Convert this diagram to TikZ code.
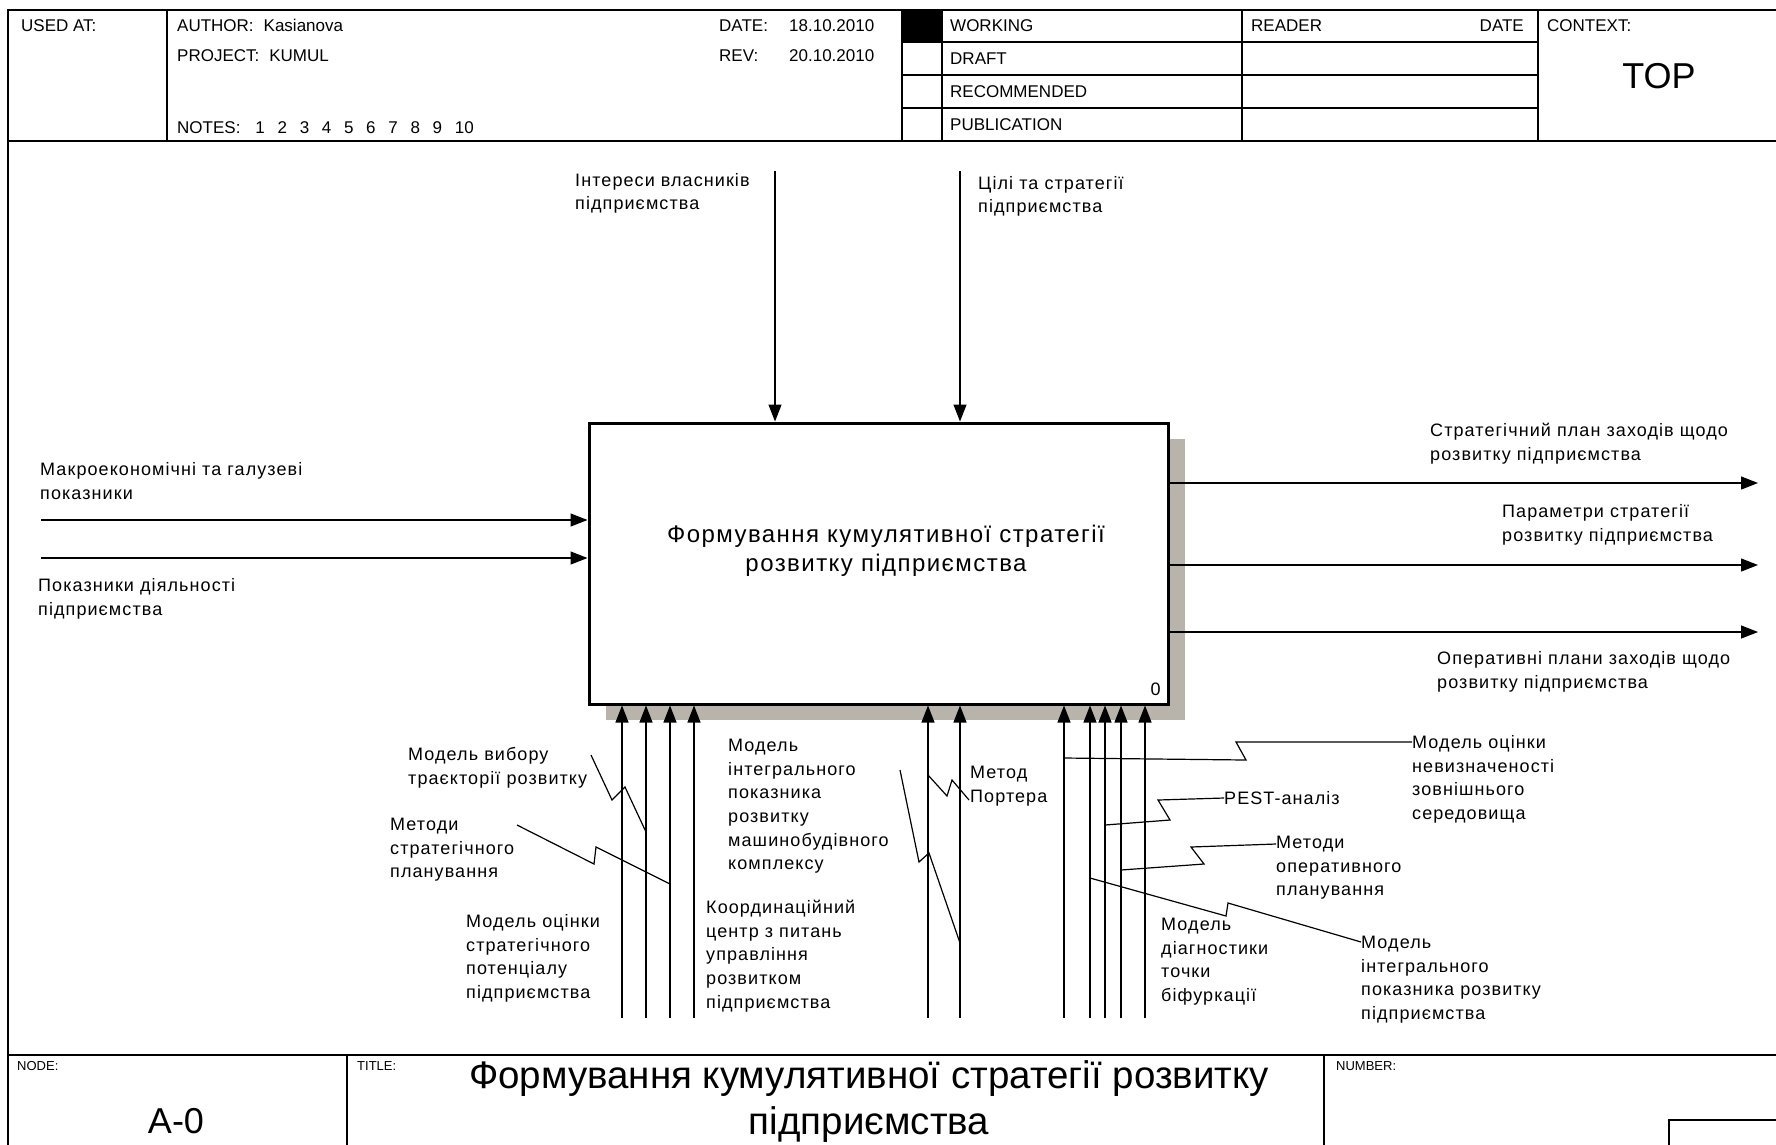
\documentclass[tikz,border=0pt]{standalone}
\usepackage{fontspec}
\setmainfont{Liberation Sans}
\newfontfamily\spacedfamily[LetterSpace=6]{Liberation Sans}
\usetikzlibrary{arrows.meta, calc, shadows}
\definecolor{shadowgray}{RGB}{184,180,172}
\newcommand{\lblfont}{\spacedfamily\fontsize{18pt}{23.7pt}\selectfont}
\newcommand{\hdrfont}{\fontsize{17pt}{20pt}\selectfont}
\newcommand{\foothdrfont}{\fontsize{13pt}{16pt}\selectfont}
\newcommand{\bigfont}{\fontsize{36pt}{44pt}\selectfont}
\newcommand{\titlefont}{\fontsize{38.5pt}{46pt}\selectfont}
\newcommand{\funcfont}{\spacedfamily\fontsize{24pt}{28.5pt}\selectfont}
\tikzset{
  frame line/.style={
    line width=2pt
  },
  grid line/.style={
    line width=1.5pt
  },
  func box/.style={
    draw,
    fill=white,
    line width=3pt,
    minimum width=579pt,
    minimum height=281pt,
    drop shadow={shadow xshift=17pt, shadow yshift=-16pt, fill=shadowgray, opacity=1}
  },
  func text/.style={
    font=\funcfont,
    align=center,
    inner sep=0pt
  },
  flow/.style={
    -{Triangle[length=17pt, width=13pt]},
    line width=1.2pt
  },
  squiggle/.style={
    line width=1.2pt
  },
  arrow label/.style={
    font=\lblfont,
    align=left,
    inner sep=0pt,
    anchor=north west
  },
  head text/.style={
    font=\hdrfont,
    inner sep=0pt,
    anchor=west,
    text height=12pt,
    text depth=0pt
  },
  foot text/.style={
    font=\foothdrfont,
    inner sep=0pt,
    anchor=west,
    text height=9.3pt,
    text depth=0pt
  },
  big text/.style={
    font=\bigfont,
    inner sep=0pt,
    text height=26pt,
    text depth=0pt
  }
}

\begin{document}
\begin{tikzpicture}[x=1pt, y=-1pt]
    % 0. page
    \useasboundingbox (0,0) rectangle (1776,1144);
    \clip (0,0) rectangle (1776,1144);

    % 1. frame and header grid
    \draw[frame line] (8,1170) -- (8,10) -- (1790,10);
    \draw[frame line] (8,141) -- (1790,141);
    \draw[frame line] (8,1055) -- (1790,1055);
    \foreach \x in {167,902,942,1242,1538}
      \draw[frame line] (\x,10) -- (\x,141);
    \foreach \y in {42,75,108}
      \draw[grid line] (902,\y) -- (1538,\y);
    \fill (902,10) rectangle (942,42);

    % 2. header texts
    \node[head text] (usedat) at (21,25) {USED AT:};
    \node[head text] (author) at (177,25) {AUTHOR:\hspace{10pt}Kasianova};
    \node[head text] (project) at (177,55) {PROJECT:\hspace{10pt}KUMUL};
    \node[head text] (notes) at (177,127) {NOTES:\hspace{15pt}{\spaceskip=12.7pt 1 2 3 4 5 6 7 8 9 10}};
    \node[head text] (date) at (719,25) {DATE:};
    \node[head text] (dateval) at (789,25) {18.10.2010};
    \node[head text] (rev) at (719,55) {REV:};
    \node[head text] (revval) at (789,55) {20.10.2010};
    \node[head text] (working) at (950,25) {WORKING};
    \node[head text] (draft) at (950,58) {DRAFT};
    \node[head text] (recom) at (950,91) {RECOMMENDED};
    \node[head text] (public) at (950,124) {PUBLICATION};
    \node[head text] (reader) at (1251,25) {READER};
    \node[head text, anchor=east] (readdate) at (1524,25) {DATE};
    \node[head text] (context) at (1547,25) {CONTEXT:};
    \node[big text] (top) at (1659,75) {TOP};

    % 3. footer
    \draw[frame line] (347,1055) -- (347,1170);
    \draw[frame line] (1324,1055) -- (1324,1170);
    \draw[frame line] (1669,1170) -- (1669,1120) -- (1790,1120);
    \node[foot text] (nodelbl) at (17,1066) {NODE:};
    \node[foot text] (titlelbl) at (357,1066) {TITLE:};
    \node[foot text] (numberlbl) at (1336,1066) {NUMBER:};
    \node[big text] (nodeno) at (176,1120) {A-0};
    \node[font=\titlefont, align=center, inner sep=0pt, anchor=north] (title) at (869,1056)
      {\strut Формування кумулятивної стратегії розвитку\\підприємства};

    % 4. function box
    \node[func box] (func) at (878.5,563.5) {};
    \node[func text] (functext) at (886,551) {Формування кумулятивної стратегії\\розвитку підприємства};
    \node[font=\lblfont, inner sep=0pt] (funcno) at (1155.5,689) {0};

    % 5. inputs
    \coordinate (in1) at (41,520);
    \coordinate (in2) at (41,558);
    \draw[flow] (in1) -- (in1 -| func.west);
    \draw[flow] (in2) -- (in2 -| func.west);
    \node[arrow label] (inlab1) at (40,458.5) {\strut Макроекономічні та галузеві\\показники};
    \node[arrow label] (inlab2) at (38,575) {\strut Показники діяльності\\підприємства};

    % 6. controls
    \coordinate (ctl1) at (775,171);
    \coordinate (ctl2) at (960,171);
    \draw[flow] (ctl1) -- (ctl1 |- func.north);
    \draw[flow] (ctl2) -- (ctl2 |- func.north);
    \node[arrow label] (ctllab1) at (575,169.5) {\strut Інтереси власників\\підприємства};
    \node[arrow label] (ctllab2) at (978,172.5) {\strut Цілі та стратегії\\підприємства};

    % 7. outputs
    \coordinate (out1) at (1758,483);
    \coordinate (out2) at (1758,565);
    \coordinate (out3) at (1758,632);
    \draw[flow] (out1 -| func.east) -- (out1);
    \draw[flow] (out2 -| func.east) -- (out2);
    \draw[flow] (out3 -| func.east) -- (out3);
    \node[arrow label] (outlab1) at (1430,419.5) {\strut Стратегічний план заходів щодо\\розвитку підприємства};
    \node[arrow label] (outlab2) at (1502,501) {\strut Параметри стратегії\\розвитку підприємства};
    \node[arrow label] (outlab3) at (1437,648) {\strut Оперативні плани заходів щодо\\розвитку підприємства};

    % 8. mechanisms
    \foreach \name/\x in {m1/622, m2/646, m3/670, m4/694, m5/928, m6/960,
                          m7/1064, m8/1090, m9/1105, m10/1121, m11/1145} {
      \coordinate (\name) at (\x,1018);
      \draw[flow] (\name) -- (\name |- func.south);
    }
    \node[arrow label] (mlab1) at (466,910.5) {\strut Модель оцінки\\стратегічного\\потенціалу\\підприємства};
    \node[arrow label] (mlab2) at (408,743.5) {\strut Модель вибору\\траєкторії розвитку};
    \node[arrow label] (mlab3) at (390,813.5) {\strut Методи\\стратегічного\\планування};
    \node[arrow label] (mlab4) at (706,896.5) {\strut Координаційний\\центр з питань\\управління\\розвитком\\підприємства};
    \node[arrow label] (mlab5) at (970,761.5) {\strut Метод\\Портера};
    \node[arrow label] (mlab6) at (728,734.5) {\strut Модель\\інтегрального\\показника\\розвитку\\машинобудівного\\комплексу};
    \node[arrow label] (mlab7) at (1412,731.5) {\strut Модель оцінки\\невизначеності\\зовнішнього\\середовища};
    \node[arrow label] (mlab8) at (1361,931.5) {\strut Модель\\інтегрального\\показника розвитку\\підприємства};
    \node[arrow label] (mlab9) at (1224,787.5) {\strut PEST-аналіз};
    \node[arrow label] (mlab10) at (1276,831.5) {\strut Методи\\оперативного\\планування};
    \node[arrow label] (mlab11) at (1161,913.5) {\strut Модель\\діагностики\\точки\\біфуркації};

    % 9. squiggles from labels to arrows
    \draw[squiggle] (591,755) -- (612,800) -- (625,787) -- (m2 |- 0,832);
    \draw[squiggle] (517,825) -- (594,864) -- (596,847) -- (m3 |- 0,884);
    \draw[squiggle] (m5 |- 0,775) -- (947,796) -- (952,780) -- (969,800);
    \draw[squiggle] (900,770) -- (919,862) -- (929,853) -- (m6 |- 0,943);
    \draw[squiggle] (m7 |- 0,758) -- (1246,760) -- (1236,742) -- (1412,742);
    \draw[squiggle] (m8 |- 0,878) -- (1226,916) -- (1228,903) -- (1361,942);
    \draw[squiggle] (m9 |- 0,825) -- (1170,820) -- (1158,800) -- (1224,798);
    \draw[squiggle] (m10 |- 0,870) -- (1204,864) -- (1191,847) -- (1276,844);

\end{tikzpicture}
\end{document}
